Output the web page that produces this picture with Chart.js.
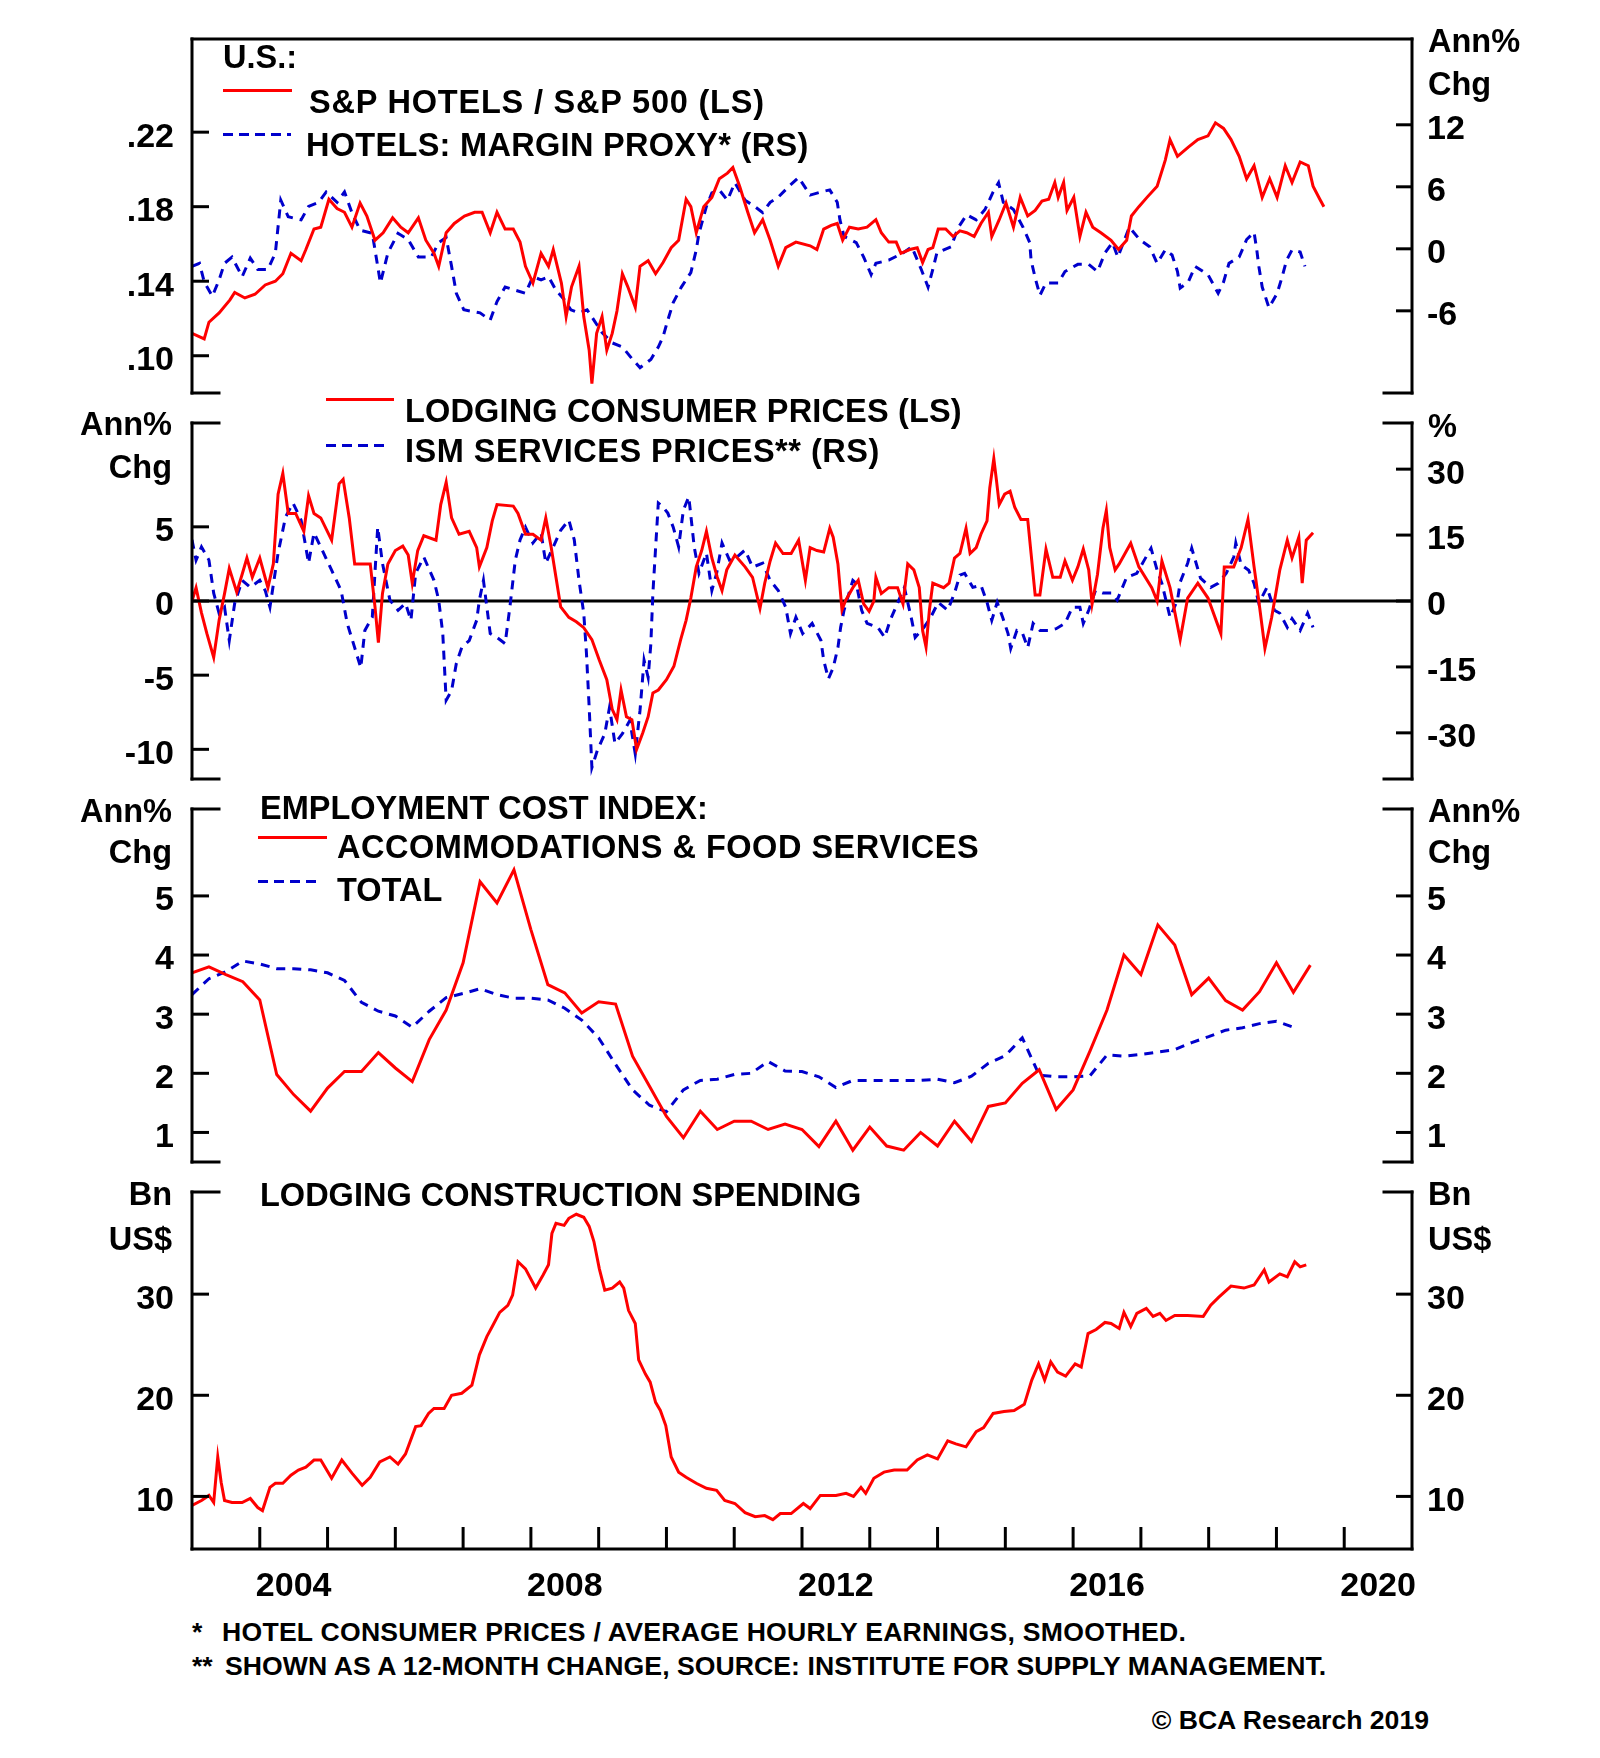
<!DOCTYPE html>
<html><head><meta charset="utf-8">
<script src="https://cdn.jsdelivr.net/npm/chart.js@4.4.1/dist/chart.umd.min.js"></script>
<style>
html,body{margin:0;padding:0;background:#fff;}
#wrap{position:relative;width:1600px;height:1758px;overflow:hidden;font-family:"Liberation Sans",Arial,sans-serif;font-weight:bold;color:#000;background:#fff;}
canvas{position:absolute;left:0;z-index:1;}
.t{position:absolute;white-space:nowrap;font-size:32.5px;line-height:32px;z-index:2;}
.r{text-align:right;}
.f{font-size:26.6px;line-height:26px;}
.ln{position:absolute;height:3px;z-index:2;}
.solid{background:#ff0000;}
.dash{background:repeating-linear-gradient(to right,#0000cc 0 10px,transparent 10px 16px);}
</style></head>
<body><div id="wrap">
<canvas id="c1" width="1600" height="374" style="top:29px;width:1600px;height:374px"></canvas>
<canvas id="c2" width="1600" height="376" style="top:413px;width:1600px;height:376px"></canvas>
<canvas id="c3" width="1600" height="373" style="top:799px;width:1600px;height:373px"></canvas>
<canvas id="c4" width="1600" height="430" style="top:1182px;width:1600px;height:430px"></canvas>

<!-- panel 1 -->
<div class="t" style="left:223px;top:41px">U.S.:</div>
<div class="ln solid" style="left:223px;top:89px;width:69px"></div>
<div class="t" style="left:309px;top:86px;letter-spacing:0.8px">S&amp;P HOTELS / S&amp;P 500 (LS)</div>
<div class="ln dash" style="left:223px;top:133px;width:68px"></div>
<div class="t" style="left:306px;top:129px;letter-spacing:0.3px">HOTELS: MARGIN PROXY* (RS)</div>
<div class="t" style="left:1428px;top:25px">Ann%</div>
<div class="t" style="left:1428px;top:68px">Chg</div>

<!-- panel 2 -->
<div class="ln solid" style="left:326px;top:398px;width:68px"></div>
<div class="t" style="left:405px;top:395px;letter-spacing:0.15px">LODGING CONSUMER PRICES (LS)</div>
<div class="ln dash" style="left:326px;top:444px;width:64px"></div>
<div class="t" style="left:405px;top:435px;letter-spacing:0.5px">ISM SERVICES PRICES** (RS)</div>
<div class="t r" style="right:1428px;top:408px">Ann%</div>
<div class="t r" style="right:1428px;top:451px">Chg</div>
<div class="t" style="left:1428px;top:410px">%</div>

<!-- panel 3 -->
<div class="t" style="left:260px;top:792px">EMPLOYMENT COST INDEX:</div>
<div class="ln solid" style="left:258px;top:836px;width:69px"></div>
<div class="t" style="left:337px;top:831px;letter-spacing:0.5px">ACCOMMODATIONS &amp; FOOD SERVICES</div>
<div class="ln dash" style="left:258px;top:880px;width:64px"></div>
<div class="t" style="left:337px;top:874px">TOTAL</div>
<div class="t r" style="right:1428px;top:795px">Ann%</div>
<div class="t r" style="right:1428px;top:836px">Chg</div>
<div class="t" style="left:1428px;top:795px">Ann%</div>
<div class="t" style="left:1428px;top:836px">Chg</div>

<!-- panel 4 -->
<div class="t" style="left:260px;top:1179px">LODGING CONSTRUCTION SPENDING</div>
<div class="t r" style="right:1428px;top:1178px">Bn</div>
<div class="t r" style="right:1428px;top:1223px">US$</div>
<div class="t" style="left:1428px;top:1178px">Bn</div>
<div class="t" style="left:1428px;top:1223px">US$</div>

<!-- footnotes -->
<div class="t f" style="left:192px;top:1619px">*</div>
<div class="t f" style="left:222px;top:1619px;letter-spacing:0.25px">HOTEL CONSUMER PRICES / AVERAGE HOURLY EARNINGS, SMOOTHED.</div>
<div class="t f" style="left:192px;top:1653px">**</div>
<div class="t f" style="left:225px;top:1653px;letter-spacing:0.05px">SHOWN AS A 12-MONTH CHANGE, SOURCE: INSTITUTE FOR SUPPLY MANAGEMENT.</div>
<div class="t f r" style="right:171px;top:1707px">© BCA Research 2019</div>
</div>

<script>
// ---------- axis ticks / labels ----------
const xTickYears = [2004,2005,2006,2007,2008,2009,2010,2011,2012,2013,2014,2015,2016,2017,2018,2019,2020];
const xLabelYears = [2004,2008,2012,2016,2020];
const p1LeftTicks = [0.10,0.14,0.18,0.22];
const p1RightTicks = [-6,0,6,12];
const p2LeftTicks = [-10,-5,0,5];
const p2RightTicks = [-30,-15,0,15,30];
const p3Ticks = [1,2,3,4,5];
const p4Ticks = [10,20,30];

// ---------- panel 1: S&P hotels / S&P 500 (LS) ----------
const hotelsRatioYears = [
2003.00,2003.18,2003.25,2003.40,2003.56,2003.63,2003.78,2003.93,
2004.08,2004.23,2004.34,2004.46,2004.61,2004.68,2004.80,2004.90,
2005.02,2005.14,2005.25,2005.36,2005.48,2005.58,2005.70,2005.82,2005.96,
2006.08,2006.19,2006.34,2006.45,2006.57,2006.64,2006.75,2006.87,
2007.02,2007.17,2007.28,2007.40,2007.50,2007.62,2007.74,2007.84,2007.92,
2008.03,2008.15,2008.26,2008.33,2008.45,2008.52,2008.60,2008.71,2008.78,2008.86,2008.90,2008.97,
2009.05,2009.12,2009.20,2009.27,2009.35,2009.43,2009.54,2009.61,2009.73,2009.84,2009.95,
2010.07,2010.18,2010.29,2010.36,2010.44,2010.55,2010.67,2010.78,2010.90,2010.98,
2011.08,2011.20,2011.30,2011.42,2011.53,2011.65,2011.76,2011.91,
2012.12,2012.22,2012.32,2012.43,2012.52,2012.60,2012.70,2012.83,2012.96,
2013.09,2013.17,2013.28,2013.39,2013.46,2013.59,2013.70,2013.78,2013.86,2013.93,
2014.01,2014.12,2014.23,2014.33,2014.43,2014.54,2014.64,2014.75,2014.80,2014.91,
2015.01,2015.12,2015.22,2015.33,2015.44,2015.54,2015.64,2015.73,2015.78,2015.86,2015.91,
2016.01,2016.10,2016.19,2016.29,2016.41,2016.56,2016.67,2016.79,2016.86,2016.97,
2017.09,2017.24,2017.36,2017.43,2017.54,2017.70,2017.84,2017.99,
2018.10,2018.22,2018.33,2018.45,2018.56,2018.67,2018.79,2018.90,
2019.01,2019.13,2019.23,2019.35,2019.47,2019.54,2019.64,2019.70];
const hotelsRatio = [
.112,.109,.118,.123,.130,.134,.131,.133,
.138,.140,.144,.155,.151,.157,.168,.169,
.184,.179,.177,.169,.182,.175,.162,.166,.174,
.169,.166,.174,.162,.155,.148,.166,.171,
.175,.177,.177,.166,.177,.168,.168,.161,.148,
.139,.155,.148,.157,.139,.121,.137,.148,.121,.103,.085,.112,
.121,.103,.112,.124,.144,.137,.126,.148,.151,.144,.150,
.158,.162,.184,.180,.166,.180,.185,.195,.198,.201,
.191,.177,.166,.173,.162,.148,.158,.161,
.159,.157,.168,.170,.171,.162,.169,.168,.169,
.173,.166,.161,.161,.155,.157,.158,.150,.157,.158,
.168,.168,.164,.167,.166,.164,.171,.177,.164,.173,
.182,.169,.185,.175,.178,.183,.184,.193,.185,.193,.178,
.185,.164,.177,.169,.166,.162,.157,.162,.175,.180,
.185,.191,.205,.216,.207,.212,.216,.218,
.225,.222,.216,.207,.195,.202,.185,.195,
.185,.202,.193,.204,.202,.191,.184,.180];

// ---------- panel 1: hotels margin proxy (RS) ----------
const marginProxyYears = [
2003.00,2003.11,2003.18,2003.30,2003.40,2003.48,2003.59,2003.74,2003.86,2003.97,
2004.12,2004.23,2004.31,2004.42,2004.61,2004.72,2004.87,2004.98,
2005.14,2005.25,2005.36,2005.48,2005.66,2005.78,2005.89,
2006.04,2006.19,2006.34,2006.53,2006.64,2006.75,2006.83,2006.90,
2007.01,2007.25,2007.40,2007.50,2007.62,2007.77,2007.92,
2008.03,2008.15,2008.26,2008.37,2008.49,2008.59,2008.71,2008.83,2008.93,
2009.05,2009.20,2009.35,2009.50,2009.61,2009.77,2009.88,2009.95,
2010.02,2010.10,2010.22,2010.36,2010.44,2010.48,2010.59,2010.67,2010.78,2010.90,
2011.01,2011.16,2011.30,2011.42,2011.53,2011.65,2011.80,2011.95,
2012.12,2012.28,2012.41,2012.52,2012.56,2012.62,2012.80,2012.91,
2013.02,2013.09,2013.28,2013.49,2013.62,2013.76,2013.86,2013.93,2013.99,
2014.20,2014.30,2014.43,2014.57,2014.70,2014.82,2014.90,2014.97,
2015.12,2015.26,2015.36,2015.38,2015.44,2015.51,2015.60,2015.78,2015.88,
2016.07,2016.23,2016.36,2016.47,2016.58,2016.66,2016.83,2016.98,
2017.13,2017.24,2017.36,2017.46,2017.54,2017.58,2017.70,2017.80,2017.99,
2018.14,2018.22,2018.30,2018.45,2018.56,2018.67,2018.71,2018.74,2018.79,2018.89,
2019.01,2019.08,2019.15,2019.23,2019.35,2019.42];
const marginProxy = [
-1.7,-1.4,-3.2,-4.6,-3.0,-1.4,-0.8,-2.7,-0.9,-2.0,
-2.0,-0.4,4.7,3.1,2.8,4.1,4.5,5.5,
4.5,5.5,3.5,1.8,1.5,-3.3,-0.4,
1.5,0.9,-0.8,-0.8,0.6,1.1,-1.7,-4.3,
-5.9,-6.2,-6.9,-5.1,-3.7,-4.0,-4.3,
-2.7,-3.0,-2.7,-4.0,-4.9,-5.9,-6.2,-5.9,-6.9,
-8.1,-9.1,-9.5,-10.7,-11.5,-10.7,-9.5,-8.5,
-6.9,-5.2,-3.7,-2.3,-0.1,1.5,4.1,5.4,5.7,4.7,
6.4,4.7,4.1,3.5,4.5,5.0,6.0,6.9,
5.2,5.5,5.7,4.5,2.8,1.2,0.6,-0.8,
-2.5,-1.4,-1.1,-0.4,0.2,-2.0,-3.7,-2.0,-0.4,
0.2,2.0,3.3,2.8,3.8,5.5,6.4,4.5,
3.8,2.1,0.6,-1.1,-2.8,-4.5,-3.3,-3.3,-2.2,
-1.5,-1.5,-2.2,-0.4,0.6,-0.8,2.1,0.9,
0.2,-1.4,-0.1,-0.6,-2.2,-3.8,-3.2,-1.7,-2.5,
-4.3,-3.2,-1.4,-0.8,0.9,1.6,-0.1,-1.7,-3.7,-5.7,
-4.3,-2.8,-1.1,-0.1,-0.3,-1.7];

// ---------- panel 2: lodging consumer prices (LS) ----------
const lodgingCpiYears = [
2003.00,2003.06,2003.14,2003.22,2003.32,2003.40,2003.48,2003.55,2003.66,2003.74,2003.81,2003.89,
2004.00,2004.12,2004.20,2004.27,2004.34,2004.42,2004.53,2004.65,2004.72,2004.80,2004.90,
2005.06,2005.17,2005.23,2005.32,2005.40,2005.63,2005.70,2005.75,2005.81,2005.89,
2006.00,2006.11,2006.19,2006.25,2006.33,2006.42,2006.60,2006.67,2006.75,2006.83,2006.94,
2007.09,2007.20,2007.24,2007.35,2007.43,2007.50,2007.74,2007.81,2007.92,
2008.03,2008.15,2008.22,2008.30,2008.37,2008.44,2008.56,2008.67,2008.78,2008.90,
2009.01,2009.12,2009.20,2009.27,2009.33,2009.41,2009.49,2009.56,2009.65,2009.73,2009.80,2009.88,
2010.00,2010.11,2010.21,2010.29,2010.36,2010.44,2010.52,2010.59,2010.67,2010.75,2010.82,2010.89,
2011.01,2011.16,2011.27,2011.38,2011.45,2011.53,2011.61,2011.72,2011.84,2011.95,
2012.05,2012.12,2012.22,2012.32,2012.41,2012.46,2012.53,2012.59,2012.64,2012.75,2012.83,2012.91,2012.99,
2013.06,2013.09,2013.17,2013.28,2013.41,2013.49,2013.56,2013.65,2013.73,2013.78,2013.83,2013.88,2013.93,
2014.09,2014.17,2014.25,2014.33,2014.42,2014.48,2014.57,2014.64,2014.73,2014.77,2014.83,2014.87,2014.91,2014.99,
2015.07,2015.14,2015.23,2015.33,2015.38,2015.44,2015.51,2015.60,2015.70,2015.81,2015.88,2015.99,
2016.07,2016.15,2016.23,2016.28,2016.36,2016.44,2016.49,2016.54,2016.62,2016.68,2016.85,2016.97,
2017.16,2017.24,2017.31,2017.43,2017.58,2017.69,2017.84,2017.99,
2018.18,2018.23,2018.37,2018.48,2018.58,2018.67,2018.74,2018.83,2018.93,
2019.05,2019.16,2019.23,2019.33,2019.38,2019.44,2019.54];
const lodgingCpi = [
0,0.9,-0.8,-2.2,-3.8,-1.3,0.5,2.2,0.6,1.8,2.9,1.6,
2.9,0.9,2.5,7.2,8.6,5.9,5.9,4.7,7.1,5.9,5.6,
4.1,7.9,8.2,5.6,2.5,2.5,-0.4,-2.8,0.5,2.5,
3.4,3.7,3.1,1.2,3.4,4.4,4.1,6.5,8.0,5.6,4.5,
4.7,3.6,2.3,3.6,5.4,6.5,6.4,5.9,4.5,
4.5,4.1,5.6,3.6,1.6,-0.4,-1.1,-1.4,-1.8,-2.6,
-4.0,-5.3,-7.3,-8.0,-6.0,-7.8,-8.0,-10.0,-8.9,-7.8,-6.2,-6.0,
-5.3,-4.4,-2.6,-1.3,0.2,2.3,3.4,4.7,2.9,1.6,0.7,2.1,
3.1,2.3,1.6,-0.5,1.2,2.7,3.9,3.2,3.2,4.1,
1.4,3.6,3.4,3.3,4.9,4.3,2.5,-0.6,0.0,0.9,1.4,-0.2,-0.7,
0.0,1.6,0.5,0.9,0.9,-0.2,2.5,2.1,0.9,-2.0,-3.1,-0.6,1.2,
0.9,1.2,2.9,3.2,4.9,3.2,3.6,4.5,5.4,7.6,9.6,8.1,6.5,7.2,
7.4,6.3,5.5,5.5,3.2,0.4,0.4,3.5,1.6,1.6,2.7,1.4,
2.3,3.5,2.1,-0.2,1.8,4.9,6.1,3.6,2.1,2.5,3.9,2.3,
0.9,0.0,2.7,0.9,-2.6,0.2,1.2,0.2,
-2.2,2.3,2.3,3.6,5.5,2.3,0.0,-3.2,-1.1,
2.1,4.1,2.9,4.3,1.2,4.1,4.6];

// ---------- panel 2: ISM services prices, 12-month change (RS) ----------
const ismPricesYears = [
2003.00,2003.06,2003.14,2003.25,2003.32,2003.40,2003.48,2003.55,2003.63,2003.74,2003.86,
2004.00,2004.08,2004.15,2004.27,2004.38,2004.49,2004.61,2004.72,2004.80,2004.92,
2005.06,2005.20,2005.29,2005.40,2005.49,2005.55,2005.66,2005.74,2005.81,2005.92,
2006.04,2006.15,2006.23,2006.30,2006.42,2006.57,2006.64,2006.70,2006.75,2006.83,2006.90,2006.98,
2007.09,2007.20,2007.24,2007.30,2007.40,2007.50,2007.62,2007.69,2007.77,2007.84,2007.92,
2008.03,2008.15,2008.22,2008.33,2008.44,2008.56,2008.64,2008.71,2008.78,2008.82,2008.86,2008.90,2008.98,
2009.09,2009.16,2009.24,2009.35,2009.46,2009.54,2009.61,2009.67,2009.73,2009.77,2009.80,2009.88,2009.95,
2010.02,2010.10,2010.18,2010.25,2010.33,2010.41,2010.48,2010.59,2010.67,2010.74,2010.82,2010.93,
2011.04,2011.16,2011.27,2011.42,2011.53,2011.65,2011.76,2011.83,2011.91,
2012.01,2012.15,2012.28,2012.32,2012.39,2012.46,2012.53,2012.57,2012.62,2012.75,2012.80,2012.88,2012.96,
2013.12,2013.22,2013.30,2013.41,2013.51,2013.62,2013.67,2013.80,2013.90,
2014.01,2014.15,2014.25,2014.33,2014.40,2014.52,2014.64,2014.73,2014.80,2014.88,2014.96,
2015.04,2015.08,2015.17,2015.25,2015.33,2015.41,2015.51,2015.64,2015.75,2015.88,2015.99,
2016.10,2016.15,2016.23,2016.33,2016.44,2016.57,2016.65,2016.79,2016.94,
2017.05,2017.15,2017.24,2017.31,2017.43,2017.54,2017.58,2017.69,2017.75,2017.88,
2018.03,2018.14,2018.26,2018.37,2018.40,2018.48,2018.59,2018.67,2018.74,2018.86,2018.97,
2019.05,2019.16,2019.23,2019.35,2019.46,2019.54];
const ismPrices = [
13.9,9.3,12.3,9.3,1.8,-2.8,-1.4,-9.0,-0.5,4.7,3.1,
4.7,2.4,-1.4,10.9,19.1,22.3,18.4,8.6,15.5,11.6,
7.0,2.4,-5.1,-10.6,-15.2,-6.7,-3.7,16.8,8.6,0.2,
-2.1,-0.5,-4.4,6.3,10.0,4.7,0.2,-7.4,-22.6,-20.4,-14.2,-10.6,
-9.0,-4.4,0.2,4.7,-7.4,-8.3,-9.7,-1.4,9.3,13.9,16.8,
13.2,15.5,8.6,12.3,16.1,18.4,13.9,4.7,-2.8,-11.9,-24.2,-37.9,-34.0,
-30.2,-24.2,-32.4,-30.2,-27.2,-34.8,-24.9,-13.5,-17.4,-9.7,1.8,22.3,21.4,
20.0,16.8,12.3,20.7,23.7,12.3,6.3,10.9,2.4,6.3,13.2,9.3,
10.0,11.6,7.7,8.6,4.7,2.4,-1.4,-7.4,-3.7,
-7.4,-5.1,-9.0,-13.5,-17.7,-15.2,-10.6,-6.0,-2.1,4.7,4.0,-2.1,-5.1,
-6.0,-8.3,-4.4,-0.5,3.1,-4.4,-8.3,-6.0,-3.7,
-0.3,-2.1,1.8,5.9,6.3,3.1,3.6,-0.3,-4.4,-0.3,-3.7,
-7.4,-10.8,-6.7,-7.2,-10.6,-5.1,-6.7,-6.7,-6.3,-5.1,-1.4,
-1.4,-5.1,-2.1,2.4,1.8,1.8,0.2,5.4,6.3,
9.3,12.0,7.0,4.0,-3.7,0.2,4.3,8.6,12.0,5.2,
3.1,4.0,6.3,10.0,13.2,8.2,7.0,4.0,-0.5,3.1,-2.1,
-2.8,-6.0,-4.0,-6.7,-2.8,-6.0];

// ---------- panel 3: employment cost index (quarterly) ----------
const eciQuarters = [
2003.00,2003.25,2003.50,2003.75,2004.00,2004.25,2004.50,2004.75,2005.00,2005.25,
2005.50,2005.75,2006.00,2006.25,2006.50,2006.75,2007.00,2007.25,2007.50,2007.75,
2008.00,2008.25,2008.50,2008.75,2009.00,2009.25,2009.50,2009.75,2010.00,2010.25,
2010.50,2010.75,2011.00,2011.25,2011.50,2011.75,2012.00,2012.25,2012.50,2012.75,
2013.00,2013.25,2013.50,2013.75,2014.00,2014.25,2014.50,2014.75,2015.00,2015.25,
2015.50,2015.75,2016.00,2016.25,2016.50,2016.75,2017.00,2017.25,2017.50,2017.75,
2018.00,2018.25,2018.50,2018.75,2019.00,2019.25,2019.50];
const eciAccomFood = [
3.70,3.80,3.67,3.55,3.24,1.98,1.64,1.36,1.75,2.03,
2.03,2.35,2.09,1.86,2.57,3.07,3.87,5.24,4.88,5.44,
4.43,3.50,3.36,3.02,3.21,3.17,2.29,1.78,1.27,0.91,
1.36,1.05,1.19,1.19,1.05,1.14,1.05,0.76,1.19,0.70,
1.09,0.77,0.70,1.00,0.77,1.19,0.85,1.44,1.50,1.83,
2.06,1.39,1.72,2.38,3.07,4.00,3.67,4.51,4.17,3.33,
3.61,3.23,3.07,3.38,3.87,3.37,3.83];
const eciTotal = [
3.33,3.60,3.72,3.90,3.85,3.77,3.77,3.75,3.70,3.57,
3.20,3.05,2.97,2.78,3.05,3.28,3.35,3.43,3.33,3.27,
3.27,3.24,3.10,2.90,2.60,2.15,1.72,1.46,1.35,1.72,
1.88,1.90,1.98,2.00,2.20,2.04,2.03,1.94,1.76,1.88,
1.88,1.88,1.88,1.88,1.90,1.84,1.95,2.17,2.30,2.60,
1.97,1.94,1.94,1.96,2.31,2.29,2.32,2.36,2.40,2.52,
2.62,2.73,2.77,2.84,2.88,2.78];

// ---------- panel 4: lodging construction spending (Bn US$) ----------
const constructionYears = [
2003.00,2003.14,2003.25,2003.32,2003.38,2003.43,2003.48,2003.59,2003.74,2003.86,2003.97,
2004.04,2004.15,2004.23,2004.34,2004.46,2004.57,2004.68,2004.80,2004.90,
2005.06,2005.21,2005.36,2005.51,2005.63,2005.77,2005.92,
2006.04,2006.15,2006.30,2006.38,2006.49,2006.57,2006.72,2006.83,2006.98,
2007.13,2007.24,2007.35,2007.43,2007.54,2007.66,2007.73,2007.81,2007.92,
2008.07,2008.18,2008.26,2008.31,2008.37,2008.49,2008.56,2008.67,2008.78,2008.86,2008.93,
2009.01,2009.09,2009.20,2009.31,2009.37,2009.44,2009.54,2009.59,2009.69,2009.76,2009.84,2009.91,2009.99,
2010.07,2010.18,2010.29,2010.44,2010.59,2010.74,2010.86,
2011.01,2011.16,2011.31,2011.45,2011.57,2011.68,2011.84,
2012.02,2012.12,2012.27,2012.50,2012.65,2012.76,2012.87,2012.94,
2013.06,2013.21,2013.36,2013.55,2013.70,2013.85,
2014.00,2014.15,2014.27,2014.42,2014.57,2014.68,2014.82,2014.98,
2015.13,2015.28,2015.39,2015.49,2015.58,2015.67,2015.77,2015.89,
2016.03,2016.12,2016.22,2016.34,2016.47,2016.56,2016.68,2016.75,2016.85,2016.94,
2017.08,2017.18,2017.28,2017.37,2017.50,2017.69,2017.92,
2018.03,2018.15,2018.33,2018.52,2018.67,2018.82,2018.89,
2019.05,2019.16,2019.27,2019.35,2019.44];
const construction = [
9.1,9.6,10.1,9.4,13.9,11.4,9.6,9.4,9.4,9.8,8.9,
8.6,10.9,11.3,11.3,12.1,12.6,12.9,13.6,13.6,
11.8,13.6,12.3,11.1,11.9,13.4,13.9,
13.2,14.2,16.9,17.0,18.2,18.7,18.7,20.0,20.2,
21.0,24.0,25.8,26.8,28.2,28.9,29.9,33.2,32.5,
30.6,31.9,32.9,36.0,37.0,36.8,37.5,37.9,37.6,36.7,35.2,
32.5,30.4,30.6,31.2,30.6,28.4,27.1,23.5,22.1,21.3,19.3,18.5,17.0,
13.9,12.4,11.9,11.3,10.8,10.6,9.6,
9.3,8.4,8.0,8.1,7.7,8.3,8.3,
9.3,8.8,10.1,10.1,10.3,10.0,10.9,10.3,
11.8,12.4,12.6,12.6,13.6,14.1,
13.7,15.5,15.2,14.9,16.4,16.8,18.2,18.4,
18.5,19.1,21.5,23.1,21.5,23.3,22.3,21.9,
23.1,22.8,26.1,26.5,27.2,27.1,26.6,28.2,26.8,28.1,
28.6,27.8,28.1,27.4,27.9,27.9,27.8,
28.9,29.7,30.8,30.6,30.9,32.4,31.2,
32.0,31.7,33.2,32.7,32.9];

// ---------- chart setup ----------
const FONT = "'Liberation Sans', Arial, sans-serif";
const RED = '#ff0000', BLUE = '#0000cc';
const LEFT_W = 192, RIGHT_W = 188;

function pts(xs, ys) {
  const n = Math.min(xs.length, ys.length);
  const out = [];
  for (let i = 0; i < n; i++) out.push({x: xs[i], y: ys[i]});
  return out;
}

const framePlugin = {
  id: 'frame',
  beforeDatasetsDraw(chart, args, opts) {
    if (!opts.zero) return;
    const {ctx, chartArea: a, scales} = chart;
    const y = scales.yL.getPixelForValue(0);
    ctx.save(); ctx.strokeStyle = '#000'; ctx.lineWidth = 3;
    ctx.beginPath(); ctx.moveTo(a.left, y); ctx.lineTo(a.right, y); ctx.stroke();
    ctx.restore();
  },
  afterDraw(chart, args, opts) {
    const {ctx, chartArea: a, scales} = chart;
    ctx.save(); ctx.strokeStyle = '#000'; ctx.lineWidth = 3; ctx.lineCap = 'square';
    const seg = (x1, y1, x2, y2) => { ctx.beginPath(); ctx.moveTo(x1, y1); ctx.lineTo(x2, y2); ctx.stroke(); };
    seg(a.left, a.top, a.left, a.bottom);
    seg(a.right, a.top, a.right, a.bottom);
    if (opts.topLine) seg(a.left, a.top, a.right, a.top);
    else { seg(a.left, a.top, a.left + 27, a.top); seg(a.right - 28, a.top, a.right, a.top); }
    if (opts.xAxis) seg(a.left, a.bottom, a.right, a.bottom);
    else { seg(a.left, a.bottom, a.left + 27, a.bottom); seg(a.right - 28, a.bottom, a.right, a.bottom); }
    ctx.lineCap = 'butt';
    scales.yL.ticks.forEach(t => { const y = scales.yL.getPixelForValue(t.value); seg(a.left, y, a.left + 17, y); });
    scales.yR.ticks.forEach(t => { const y = scales.yR.getPixelForValue(t.value); seg(a.right - 16, y, a.right, y); });
    if (opts.xAxis) scales.x.ticks.forEach(t => { const x = scales.x.getPixelForValue(t.value); seg(x, a.bottom, x, a.bottom - 22); });
    ctx.restore();
  }
};

function yAxis(pos, min, max, ticks, fmt) {
  return {
    type: 'linear', position: pos, min: min, max: max,
    grid: {display: false, drawTicks: false}, border: {display: false},
    afterBuildTicks: s => { s.ticks = ticks.map(v => ({value: v})); },
    afterFit: s => { s.width = pos === 'left' ? LEFT_W : RIGHT_W; s.paddingTop = 0; s.paddingBottom = 0; },
    ticks: {
      autoSkip: false, color: '#000', padding: pos === 'left' ? 18 : 15, labelOffset: 5,
      font: {family: FONT, size: 34, weight: 'bold'},
      callback: fmt || (v => String(v))
    }
  };
}

function xAxis(show) {
  return {
    type: 'linear', position: 'bottom', min: 2003, max: 2021, display: show,
    grid: {display: false, drawTicks: false}, border: {display: false},
    afterBuildTicks: s => { s.ticks = xTickYears.map(v => ({value: v})); },
    afterFit: s => { if (show) s.height = 63; s.paddingLeft = 0; s.paddingRight = 0; },
    ticks: {
      autoSkip: false, maxRotation: 0, minRotation: 0, color: '#000', padding: 17, labelOffset: 33.9,
      font: {family: FONT, size: 34, weight: 'bold'},
      callback: v => (xLabelYears.indexOf(v) >= 0 ? String(v) : '')
    }
  };
}

function ds(data, color, axis, dashed, order) {
  return {
    data: data, borderColor: color, backgroundColor: color, borderWidth: 3,
    borderDash: dashed ? [9, 7] : [], pointRadius: 0, tension: 0, fill: false,
    yAxisID: axis, order: order
  };
}

function makeChart(id, datasets, scales, frameOpts, padBottom) {
  return new Chart(document.getElementById(id), {
    type: 'line',
    data: {datasets: datasets},
    options: {
      responsive: false, animation: false, devicePixelRatio: 1, events: [],
      layout: {padding: {top: 10, bottom: padBottom, left: 0, right: 0}},
      scales: scales,
      plugins: {legend: {display: false}, tooltip: {enabled: false}, frame: frameOpts}
    },
    plugins: [framePlugin]
  });
}

const fmtDec = v => v.toFixed(2).replace(/^0/, '');

makeChart('c1', [
  ds(pts(hotelsRatioYears, hotelsRatio), RED, 'yL', false, 0),
  ds(pts(marginProxyYears, marginProxy), BLUE, 'yR', true, 1)
], {
  x: xAxis(false),
  yL: yAxis('left', 0.08, 0.27, p1LeftTicks, fmtDec),
  yR: yAxis('right', -13.95, 20.3, p1RightTicks)
}, {topLine: true}, 10);

makeChart('c2', [
  ds(pts(lodgingCpiYears, lodgingCpi), RED, 'yL', false, 0),
  ds(pts(ismPricesYears, ismPrices), BLUE, 'yR', true, 1)
], {
  x: xAxis(false),
  yL: yAxis('left', -12, 12, p2LeftTicks),
  yR: yAxis('right', -40.5, 40.5, p2RightTicks)
}, {zero: true}, 10);

makeChart('c3', [
  ds(pts(eciQuarters, eciAccomFood), RED, 'yL', false, 0),
  ds(pts(eciQuarters, eciTotal), BLUE, 'yL', true, 1)
], {
  x: xAxis(false),
  yL: yAxis('left', 0.5, 6.47, p3Ticks),
  yR: yAxis('right', 0.5, 6.47, p3Ticks)
}, {}, 10);

makeChart('c4', [
  ds(pts(constructionYears, construction), RED, 'yL', false, 0)
], {
  x: xAxis(true),
  yL: yAxis('left', 4.8, 40.1, p4Ticks),
  yR: yAxis('right', 4.8, 40.1, p4Ticks)
}, {xAxis: true}, 0);
</script>
</body></html>
